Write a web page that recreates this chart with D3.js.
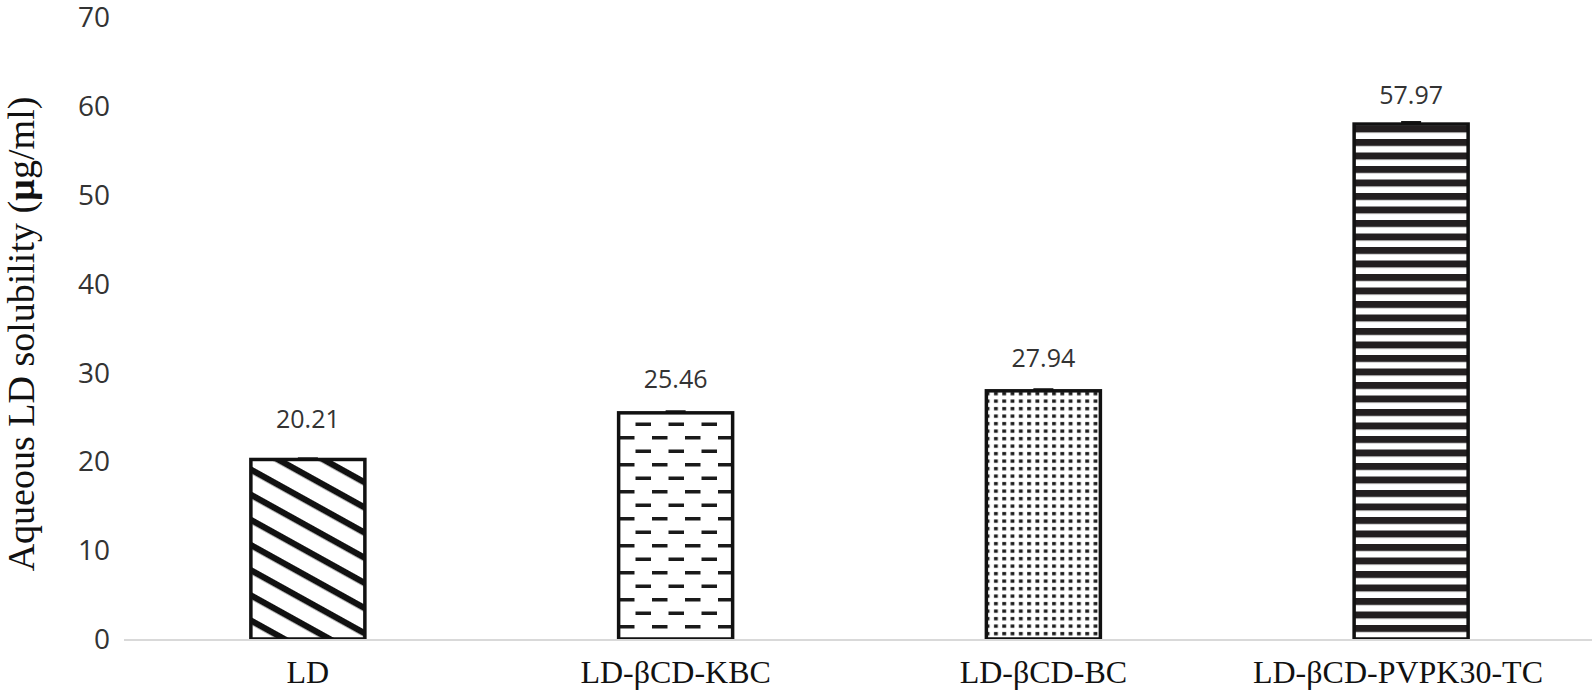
<!DOCTYPE html>
<html><head><meta charset="utf-8">
<script src="https://cdn.jsdelivr.net/npm/d3@7"></script>
<style>body{margin:0;background:#fff}svg{display:block}</style>
</head><body>
<svg id="c" width="1595" height="694"></svg>
<script>
const categories = ["LD", "LD-\u03b2CD-KBC", "LD-\u03b2CD-BC", "LD-\u03b2CD-PVPK30-TC"];
const values = [20.21, 25.46, 27.94, 57.97];
const errors = [0.1, 0.15, 0.15, 0.2];
const labels = ["20.21", "25.46", "27.94", "57.97"];
const yTicks = [0, 10, 20, 30, 40, 50, 60, 70];
const patterns = ["diag", "dash", "dots", "hstripe"];
const labelGap = [31, 25, 24, 20];

const svg = d3.select("#c");
const W = 1595, H = 694;
const m = {left: 124, right: 0, top: 17, bottom: 55};
const x = d3.scaleBand().domain(categories).range([m.left, W - m.right]).paddingInner(0.69).paddingOuter(0.345);
const y = d3.scaleLinear().domain([0, 70]).range([639, 17.2]);

const defs = svg.append("defs");
const p1 = defs.append("pattern").attr("id", "diag").attr("patternUnits", "userSpaceOnUse")
  .attr("width", 22).attr("height", 22).attr("patternTransform", "rotate(29)");
p1.append("rect").attr("width", 22).attr("height", 22).attr("fill", "#fff");
p1.append("rect").attr("y", 0).attr("width", 22).attr("height", 6.3).attr("fill", "#111");

const p2 = defs.append("pattern").attr("id", "dash").attr("patternUnits", "userSpaceOnUse")
  .attr("width", 33).attr("height", 27).attr("x", 619).attr("y", 4);
p2.append("rect").attr("width", 33).attr("height", 27).attr("fill", "#fff");
p2.append("rect").attr("x", 0).attr("y", 0).attr("width", 15.5).attr("height", 3.5).attr("fill", "#1a1a1a");
p2.append("rect").attr("x", 16.5).attr("y", 13.5).attr("width", 15.5).attr("height", 3.5).attr("fill", "#1a1a1a");

const p3 = defs.append("pattern").attr("id", "dots").attr("patternUnits", "userSpaceOnUse")
  .attr("width", 8.3).attr("height", 7.5).attr("x", 992).attr("y", 0);
p3.append("rect").attr("width", 8.3).attr("height", 7.5).attr("fill", "#fff");
p3.append("rect").attr("x", 2).attr("y", 2).attr("width", 3.8).attr("height", 3.3).attr("fill", "#1a1a1a");

const p4 = defs.append("pattern").attr("id", "hstripe").attr("patternUnits", "userSpaceOnUse")
  .attr("width", 10).attr("height", 13.5).attr("y", 4);
p4.append("rect").attr("width", 10).attr("height", 13.5).attr("fill", "#fff");
p4.append("rect").attr("y", 0).attr("width", 10).attr("height", 7).attr("fill", "#231f20");

svg.append("g").selectAll("text").data(yTicks).join("text")
  .attr("x", 110).attr("y", d => y(d)).attr("dy", "0.36em").attr("text-anchor", "end")
  .attr("font-family", "Open Sans, Liberation Sans, sans-serif").attr("font-size", 28).attr("fill", "#333")
  .text(d => d);

const g = svg.append("g");
g.selectAll("rect.bar").data(categories).join("rect").attr("class", "bar")
  .attr("x", d => x(d)).attr("width", x.bandwidth())
  .attr("y", (d, i) => y(values[i])).attr("height", (d, i) => y(0) - y(values[i]))
  .attr("fill", (d, i) => `url(#${patterns[i]})`)
  .attr("stroke", "#111").attr("stroke-width", 3.5);

g.selectAll("line.err").data(categories).join("line").attr("class", "err")
  .attr("x1", d => x(d) + x.bandwidth() / 2 - 10).attr("x2", d => x(d) + x.bandwidth() / 2 + 10)
  .attr("y1", (d, i) => y(values[i] + errors[i])).attr("y2", (d, i) => y(values[i] + errors[i]))
  .attr("stroke", "#111").attr("stroke-width", 2.5);

svg.append("line").attr("x1", m.left).attr("x2", W - 3).attr("y1", y(0) + 1).attr("y2", y(0) + 1)
  .attr("stroke", "#d9d9d9").attr("stroke-width", 2);

g.selectAll("text.val").data(categories).join("text").attr("class", "val")
  .attr("x", d => x(d) + x.bandwidth() / 2).attr("y", (d, i) => y(values[i]) - labelGap[i])
  .attr("text-anchor", "middle").attr("font-family", "Open Sans, Liberation Sans, sans-serif")
  .attr("font-size", 25).attr("fill", "#333").text((d, i) => labels[i]);

const cat = svg.append("g").selectAll("text").data(categories).join("text")
  .attr("x", d => x(d) + x.bandwidth() / 2).attr("y", 683).attr("text-anchor", "middle")
  .attr("font-family", "Liberation Serif, serif").attr("font-size", 32).attr("fill", "#111")
  .text(d => d);
// keep labels inside right limit
cat.each(function(d) {
  const w = this.getComputedTextLength();
  const cx = x(d) + x.bandwidth() / 2;
  const maxRight = 1543;
  if (cx + w / 2 > maxRight) d3.select(this).attr("x", maxRight - w / 2);
});

const t = svg.append("text").attr("transform", "translate(34,334) rotate(-90)")
  .attr("text-anchor", "middle").attr("font-family", "Liberation Serif, serif")
  .attr("font-size", 38).attr("fill", "#111");
t.append("tspan").text("Aqueous LD solubility (");
t.append("tspan").attr("font-weight", "bold").text("\u00b5");
t.append("tspan").text("g/ml)");
</script>
</body></html>
